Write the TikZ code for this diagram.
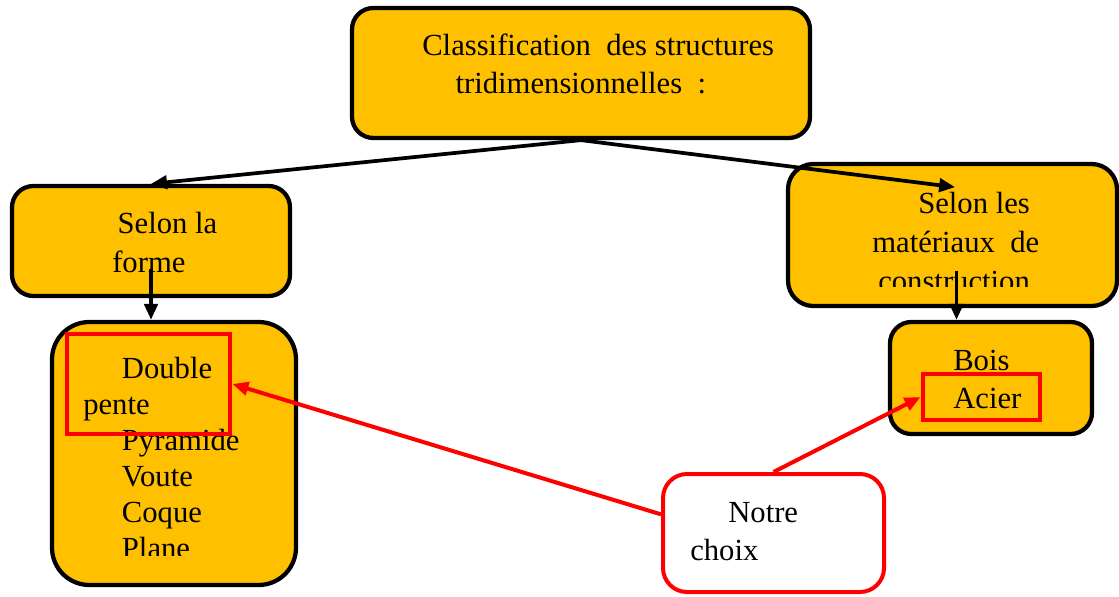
\documentclass[tikz,border=0pt]{standalone}
\usepackage{fontspec}
\setmainfont{Liberation Serif}
\usetikzlibrary{arrows.meta, fit}
\definecolor{boxgold}{HTML}{FFC000}

\begin{document}
\begin{tikzpicture}[
	x=0.75pt, y=-0.75pt,
	box/.style={draw, line width=3.2pt, fill=boxgold, rounded corners=16pt, inner sep=0pt},
	pick/.style={draw=red, line width=3.6pt, inner sep=0pt},
	note/.style={draw=red, line width=3pt, fill=white, rounded corners=18pt, inner sep=0pt},
	txt/.style={anchor=base west, align=left, inner sep=0pt, font=\fontsize{23}{28.5}\selectfont},
	arrow/.style={line width=2.8pt, -{Triangle[length=12pt, width=10pt]}},
	redarrow/.style={draw=red, line width=3pt, -{Triangle[length=12pt, width=10pt]}, red}
]
	\useasboundingbox (0,0) rectangle (1119,596);

	% boites
	\node[box, fit={(352,8) (810,138)}] (title) {};
	\node[box, fit={(12,186) (290,296)}] (forme) {};
	\node[box, rounded corners=28pt, fit={(52,322) (296,585)}] (formelist) {};
	\node[box, rounded corners=19pt, fit={(788,164) (1117,306)}] (mater) {};
	\node[box, fit={(890,322) (1092,434)}] (materlist) {};
	\node[note, fit={(663,474) (884,592)}] (choix) {};

	% textes (ancre sur la derniere ligne)
	\node[txt] (titletxt) at (422,93) {Classification\ \ des structures\\\hspace*{25pt}tridimensionnelles\ \ :};
	\node[txt, font=\fontsize{23}{29}\selectfont] (formetxt) at (112,272) {\hspace*{4pt}Selon la\\forme};
	\begin{scope}
		\clip (52,322) rectangle (296,555);
		\node[txt, font=\fontsize{23}{27}\selectfont] (listtxt) at (83,558) {\hspace*{29pt}Double\\pente\\\hspace*{29pt}Pyramide\\\hspace*{29pt}Voute\\\hspace*{29pt}Coque\\\hspace*{29pt}Plane};
	\end{scope}
	\begin{scope}
		\clip (788,164) rectangle (1117,286);
		\node[txt, font=\fontsize{23}{29}\selectfont] (matertxt) at (872,291) {\hspace*{34.5pt}Selon les\\matériaux\ \ de\\\hspace*{4.5pt}construction};
	\end{scope}
	\node[txt] (materlisttxt) at (953,408) {Bois\\Acier};
	\node[txt, font=\fontsize{23}{28}\selectfont] (choixtxt) at (690,560) {\hspace*{28.5pt}Notre\\choix};

	% choix retenus
	\node[pick, fit={(67,334) (230,434)}] (selforme) {};
	\node[pick, fit={(923,374) (1040,420)}] (selacier) {};

	% fleches
	\draw[arrow] (title.south) -- (forme.north);
	\draw[arrow] (title.south) -- ([xshift=2pt, yshift=-19pt]mater.north);
	\draw[arrow] ([yshift=22pt]forme.south) -- (forme.south |- formelist.north);
	\draw[arrow] ([xshift=3pt, yshift=28pt]mater.south) -- ([xshift=3pt]mater.south |- materlist.north);
	\draw[redarrow] ([yshift=14pt]choix.west) -- (selforme.east);
	\draw[redarrow] (choix.north) -- (selacier.west);
\end{tikzpicture}
\end{document}
